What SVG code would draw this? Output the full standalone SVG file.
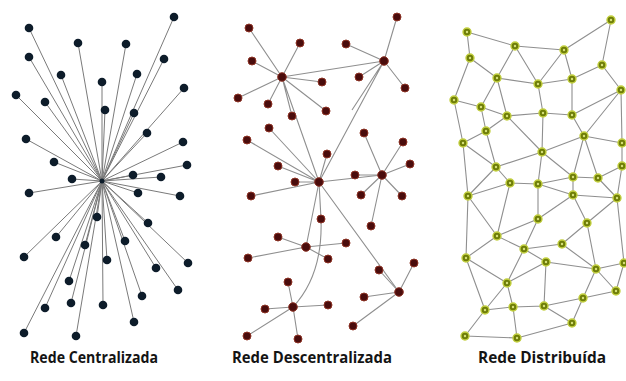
<svg xmlns="http://www.w3.org/2000/svg" width="626" height="381" viewBox="0 0 626 381">
<style>
.e{stroke:#8f8f8f;stroke-width:1.1;fill:none}
.ec{stroke:#7a7a7a;stroke-width:1;fill:none}
.l circle{fill:#0d1c2a}
.m circle{fill:#4a0c0c;stroke:#8e3325;stroke-width:1}
.r circle.o{fill:#6f7e08;stroke:#c3d040;stroke-width:1.4}
.r circle.i{fill:#d6e07a}
.t{font-family:"Open Sans","Liberation Sans",sans-serif;font-weight:700;font-size:15.5px;fill:#141414}
</style>
<rect width="626" height="381" fill="#fff"/>
<g id="connectors">
<g id="left-edges" class="ec">
<path d="M102,181L174,17M102,181L29,28M102,181L78,43M102,181L126,44M102,181L29,57M102,181L164,59M102,181L61,75M102,181L137,74M102,181L102,82M102,181L16,95M102,181L184,88M102,181L45,102M102,181L105,110M102,181L134,113M102,181L147,133M102,181L26,139M102,181L183,142M102,181L54,162M102,181L187,165M102,181L133,175M102,181L161,177M102,181L72,179M102,181L29,193M102,181L138,193M102,181L180,196M102,181L97,217M102,181L148,223M102,181L56,237M102,181L85,245M102,181L125,241M102,181L24,257M102,181L188,263M102,181L107,260M102,181L156,268M102,181L69,281M102,181L178,290M102,181L142,296M102,181L45,308M102,181L71,303M102,181L103,305M102,181L134,322M102,181L24,333M102,181L76,336"/>
</g>
<g id="mid-edges" class="e">
<path d="M282,77L249,28M282,77L300,43M282,77L252,61M282,77L322,82M282,77L238,98M282,77L268,104M282,77L326,111M282,77L292,116M282,77L384,61M282,77L319,182"/>
<path d="M384,61L397,17M384,61L346,44M384,61L359,77M384,61L405,88M384,61L319,182M384,61L352,110"/>
<path d="M319,182L269,128M319,182L247,140M319,182L327,154M319,182L278,166M319,182L295,182M319,182L251,196M319,182L382,175M319,182L306,247M319,182L399,292"/>
<path d="M319,182L321,219Q323,275 293,307"/>
<path d="M382,175L364,133M382,175L403,142M382,175L410,164M382,175L355,175M382,175L361,195M382,175L402,196M382,175L371,226"/>
<path d="M306,247L278,237M306,247L346,243M306,247L248,258M306,247L328,259"/>
<path d="M399,292L379,270M399,292L414,263M399,292L364,297M399,292L353,326"/>
<path d="M293,307L288,282M293,307L265,309M293,307L328,305M293,307L247,336M293,307L298,339"/>
</g>
<g id="right-edges" class="e">
<path d="M467,32L515,46M467,32L470,58M515,46L564,50M564,50L611,20M611,20L602,65M515,46L497,78M515,46L538,84M564,50L538,84M564,50L572,79M470,58L497,78M470,58L454,100M497,78L538,84M538,84L572,79M572,79L602,65M602,65L621,90M497,78L481,107M497,78L507,116M454,100L481,107M538,84L543,113M572,79L572,115M507,116L543,113M543,113L572,115M621,90L572,115M621,90L584,136M621,90L622,143M454,100L463,143M481,107L507,116M481,107L486,131M507,116L486,131M507,116L542,152M543,113L542,152M572,115L584,136M486,131L463,143M486,131L496,167M584,136L542,152M584,136L622,143M463,143L496,167M542,152L496,167M622,143L622,166M584,136L573,177M584,136L598,178M542,152L573,177M622,166L598,178"/>
<path d="M463,143L468,196M496,167L468,196M496,167L510,183M510,183L538,184M538,184L542,152M538,184L573,177M573,177L598,178M573,177L573,195M538,184L573,195M598,178L617,198M622,166L617,198M573,195L617,198M573,195L587,223M573,195L538,219M538,184L538,219M510,183L468,196M510,183L497,236M468,196L497,236M468,196L466,258M617,198L587,223M617,198L624,263M538,219L497,236M538,219L524,249"/>
<path d="M587,223L562,244M587,223L596,269M497,236L466,258M497,236L524,249M524,249L562,244M524,249L546,262M524,249L507,283M562,244L596,269M546,262L596,269M546,262L507,283M546,262L544,306M466,258L507,283M466,258L485,310M507,283L485,310M507,283L513,307M596,269L624,263M596,269L616,291M596,269L583,298M624,263L616,291M616,291L583,298M583,298L572,323M544,306L583,298M544,306L572,323M485,310L513,307M513,307L544,306M485,310L465,336M513,307L517,338M465,336L517,338M517,338L572,323"/>
</g>
</g>
<g id="left-nodes" class="l">
<g id="l-hub"><circle cx="102" cy="181" r="2.5"/></g>
<g id="l1"><circle cx="174" cy="17" r="4.3"/></g><g id="l2"><circle cx="29" cy="28" r="4.3"/></g><g id="l3"><circle cx="78" cy="43" r="4.3"/></g><g id="l4"><circle cx="126" cy="44" r="4.3"/></g><g id="l5"><circle cx="29" cy="57" r="4.3"/></g><g id="l6"><circle cx="164" cy="59" r="4.3"/></g><g id="l7"><circle cx="61" cy="75" r="4.3"/></g><g id="l8"><circle cx="137" cy="74" r="4.3"/></g><g id="l9"><circle cx="102" cy="82" r="4.3"/></g><g id="l10"><circle cx="16" cy="95" r="4.3"/></g><g id="l11"><circle cx="184" cy="88" r="4.3"/></g><g id="l12"><circle cx="45" cy="102" r="4.3"/></g><g id="l13"><circle cx="105" cy="110" r="4.3"/></g><g id="l14"><circle cx="134" cy="113" r="4.3"/></g><g id="l15"><circle cx="147" cy="133" r="4.3"/></g><g id="l16"><circle cx="26" cy="139" r="4.3"/></g><g id="l17"><circle cx="183" cy="142" r="4.3"/></g><g id="l18"><circle cx="54" cy="162" r="4.3"/></g><g id="l19"><circle cx="187" cy="165" r="4.3"/></g><g id="l20"><circle cx="133" cy="175" r="4.3"/></g><g id="l21"><circle cx="161" cy="177" r="4.3"/></g><g id="l22"><circle cx="72" cy="179" r="4.3"/></g><g id="l23"><circle cx="29" cy="193" r="4.3"/></g><g id="l24"><circle cx="138" cy="193" r="4.3"/></g><g id="l25"><circle cx="180" cy="196" r="4.3"/></g><g id="l26"><circle cx="97" cy="217" r="4.3"/></g><g id="l27"><circle cx="148" cy="223" r="4.3"/></g><g id="l28"><circle cx="56" cy="237" r="4.3"/></g><g id="l29"><circle cx="85" cy="245" r="4.3"/></g><g id="l30"><circle cx="125" cy="241" r="4.3"/></g><g id="l31"><circle cx="24" cy="257" r="4.3"/></g><g id="l32"><circle cx="188" cy="263" r="4.3"/></g><g id="l33"><circle cx="107" cy="260" r="4.3"/></g><g id="l34"><circle cx="156" cy="268" r="4.3"/></g><g id="l35"><circle cx="69" cy="281" r="4.3"/></g><g id="l36"><circle cx="178" cy="290" r="4.3"/></g><g id="l37"><circle cx="142" cy="296" r="4.3"/></g><g id="l38"><circle cx="45" cy="308" r="4.3"/></g><g id="l39"><circle cx="71" cy="303" r="4.3"/></g><g id="l40"><circle cx="103" cy="305" r="4.3"/></g><g id="l41"><circle cx="134" cy="322" r="4.3"/></g><g id="l42"><circle cx="24" cy="333" r="4.3"/></g><g id="l43"><circle cx="76" cy="336" r="4.3"/></g>
</g>
<g id="mid-nodes" class="m">
<g id="mA"><circle cx="282" cy="77" r="4.3"/></g><g id="mB"><circle cx="384" cy="61" r="4.3"/></g><g id="mC"><circle cx="319" cy="182" r="4.3"/></g><g id="mD"><circle cx="382" cy="175" r="4.3"/></g><g id="mE"><circle cx="306" cy="247" r="4.3"/></g><g id="mF"><circle cx="399" cy="292" r="4.3"/></g><g id="mG"><circle cx="293" cy="307" r="4.3"/></g>
<g id="m1"><circle cx="397" cy="17" r="4"/></g><g id="m2"><circle cx="249" cy="28" r="4"/></g><g id="m3"><circle cx="300" cy="43" r="4"/></g><g id="m4"><circle cx="346" cy="44" r="4"/></g><g id="m5"><circle cx="252" cy="61" r="4"/></g><g id="m6"><circle cx="322" cy="82" r="4"/></g><g id="m7"><circle cx="359" cy="77" r="4"/></g><g id="m8"><circle cx="405" cy="88" r="4"/></g><g id="m9"><circle cx="238" cy="98" r="4"/></g><g id="m10"><circle cx="268" cy="104" r="4"/></g><g id="m11"><circle cx="326" cy="111" r="4"/></g><g id="m12"><circle cx="292" cy="116" r="4"/></g><g id="m13"><circle cx="269" cy="128" r="4"/></g><g id="m14"><circle cx="364" cy="133" r="4"/></g><g id="m15"><circle cx="247" cy="140" r="4"/></g><g id="m16"><circle cx="403" cy="142" r="4"/></g><g id="m17"><circle cx="327" cy="154" r="4"/></g><g id="m18"><circle cx="410" cy="164" r="4"/></g><g id="m19"><circle cx="278" cy="166" r="4"/></g><g id="m20"><circle cx="355" cy="175" r="4"/></g><g id="m21"><circle cx="295" cy="182" r="4"/></g><g id="m22"><circle cx="251" cy="196" r="4"/></g><g id="m23"><circle cx="361" cy="195" r="4"/></g><g id="m24"><circle cx="402" cy="196" r="4"/></g><g id="m25"><circle cx="321" cy="219" r="4"/></g><g id="m26"><circle cx="371" cy="226" r="4"/></g><g id="m27"><circle cx="278" cy="237" r="4"/></g><g id="m28"><circle cx="346" cy="243" r="4"/></g><g id="m29"><circle cx="248" cy="258" r="4"/></g><g id="m30"><circle cx="328" cy="259" r="4"/></g><g id="m31"><circle cx="379" cy="270" r="4"/></g><g id="m32"><circle cx="414" cy="263" r="4"/></g><g id="m33"><circle cx="288" cy="282" r="4"/></g><g id="m34"><circle cx="364" cy="297" r="4"/></g><g id="m35"><circle cx="265" cy="309" r="4"/></g><g id="m36"><circle cx="328" cy="305" r="4"/></g><g id="m37"><circle cx="353" cy="326" r="4"/></g><g id="m38"><circle cx="247" cy="336" r="4"/></g><g id="m39"><circle cx="298" cy="339" r="4"/></g>
</g>
<g id="right-nodes" class="r">
<g id="r1"><circle class="o" cx="611" cy="20" r="4"/><circle class="i" cx="611" cy="20" r="1.2"/></g>
<g id="r2"><circle class="o" cx="467" cy="32" r="4"/><circle class="i" cx="467" cy="32" r="1.2"/></g>
<g id="r3"><circle class="o" cx="515" cy="46" r="4"/><circle class="i" cx="515" cy="46" r="1.2"/></g>
<g id="r4"><circle class="o" cx="564" cy="50" r="4"/><circle class="i" cx="564" cy="50" r="1.2"/></g>
<g id="r5"><circle class="o" cx="470" cy="58" r="4"/><circle class="i" cx="470" cy="58" r="1.2"/></g>
<g id="r6"><circle class="o" cx="602" cy="65" r="4"/><circle class="i" cx="602" cy="65" r="1.2"/></g>
<g id="r7"><circle class="o" cx="497" cy="78" r="4"/><circle class="i" cx="497" cy="78" r="1.2"/></g>
<g id="r8"><circle class="o" cx="538" cy="84" r="4"/><circle class="i" cx="538" cy="84" r="1.2"/></g>
<g id="r9"><circle class="o" cx="572" cy="79" r="4"/><circle class="i" cx="572" cy="79" r="1.2"/></g>
<g id="r10"><circle class="o" cx="621" cy="90" r="4"/><circle class="i" cx="621" cy="90" r="1.2"/></g>
<g id="r11"><circle class="o" cx="454" cy="100" r="4"/><circle class="i" cx="454" cy="100" r="1.2"/></g>
<g id="r12"><circle class="o" cx="481" cy="107" r="4"/><circle class="i" cx="481" cy="107" r="1.2"/></g>
<g id="r13"><circle class="o" cx="507" cy="116" r="4"/><circle class="i" cx="507" cy="116" r="1.2"/></g>
<g id="r14"><circle class="o" cx="543" cy="113" r="4"/><circle class="i" cx="543" cy="113" r="1.2"/></g>
<g id="r15"><circle class="o" cx="572" cy="115" r="4"/><circle class="i" cx="572" cy="115" r="1.2"/></g>
<g id="r16"><circle class="o" cx="486" cy="131" r="4"/><circle class="i" cx="486" cy="131" r="1.2"/></g>
<g id="r17"><circle class="o" cx="584" cy="136" r="4"/><circle class="i" cx="584" cy="136" r="1.2"/></g>
<g id="r18"><circle class="o" cx="463" cy="143" r="4"/><circle class="i" cx="463" cy="143" r="1.2"/></g>
<g id="r19"><circle class="o" cx="622" cy="143" r="4"/><circle class="i" cx="622" cy="143" r="1.2"/></g>
<g id="r20"><circle class="o" cx="542" cy="152" r="4"/><circle class="i" cx="542" cy="152" r="1.2"/></g>
<g id="r21"><circle class="o" cx="496" cy="167" r="4"/><circle class="i" cx="496" cy="167" r="1.2"/></g>
<g id="r22"><circle class="o" cx="622" cy="166" r="4"/><circle class="i" cx="622" cy="166" r="1.2"/></g>
<g id="r23"><circle class="o" cx="573" cy="177" r="4"/><circle class="i" cx="573" cy="177" r="1.2"/></g>
<g id="r24"><circle class="o" cx="598" cy="178" r="4"/><circle class="i" cx="598" cy="178" r="1.2"/></g>
<g id="r25"><circle class="o" cx="510" cy="183" r="4"/><circle class="i" cx="510" cy="183" r="1.2"/></g>
<g id="r26"><circle class="o" cx="538" cy="184" r="4"/><circle class="i" cx="538" cy="184" r="1.2"/></g>
<g id="r27"><circle class="o" cx="468" cy="196" r="4"/><circle class="i" cx="468" cy="196" r="1.2"/></g>
<g id="r28"><circle class="o" cx="573" cy="195" r="4"/><circle class="i" cx="573" cy="195" r="1.2"/></g>
<g id="r29"><circle class="o" cx="617" cy="198" r="4"/><circle class="i" cx="617" cy="198" r="1.2"/></g>
<g id="r30"><circle class="o" cx="538" cy="219" r="4"/><circle class="i" cx="538" cy="219" r="1.2"/></g>
<g id="r31"><circle class="o" cx="587" cy="223" r="4"/><circle class="i" cx="587" cy="223" r="1.2"/></g>
<g id="r32"><circle class="o" cx="497" cy="236" r="4"/><circle class="i" cx="497" cy="236" r="1.2"/></g>
<g id="r33"><circle class="o" cx="562" cy="244" r="4"/><circle class="i" cx="562" cy="244" r="1.2"/></g>
<g id="r34"><circle class="o" cx="524" cy="249" r="4"/><circle class="i" cx="524" cy="249" r="1.2"/></g>
<g id="r35"><circle class="o" cx="466" cy="258" r="4"/><circle class="i" cx="466" cy="258" r="1.2"/></g>
<g id="r36"><circle class="o" cx="546" cy="262" r="4"/><circle class="i" cx="546" cy="262" r="1.2"/></g>
<g id="r37"><circle class="o" cx="596" cy="269" r="4"/><circle class="i" cx="596" cy="269" r="1.2"/></g>
<g id="r38"><circle class="o" cx="624" cy="263" r="4"/><circle class="i" cx="624" cy="263" r="1.2"/></g>
<g id="r39"><circle class="o" cx="507" cy="283" r="4"/><circle class="i" cx="507" cy="283" r="1.2"/></g>
<g id="r40"><circle class="o" cx="616" cy="291" r="4"/><circle class="i" cx="616" cy="291" r="1.2"/></g>
<g id="r41"><circle class="o" cx="583" cy="298" r="4"/><circle class="i" cx="583" cy="298" r="1.2"/></g>
<g id="r42"><circle class="o" cx="485" cy="310" r="4"/><circle class="i" cx="485" cy="310" r="1.2"/></g>
<g id="r43"><circle class="o" cx="513" cy="307" r="4"/><circle class="i" cx="513" cy="307" r="1.2"/></g>
<g id="r44"><circle class="o" cx="544" cy="306" r="4"/><circle class="i" cx="544" cy="306" r="1.2"/></g>
<g id="r45"><circle class="o" cx="572" cy="323" r="4"/><circle class="i" cx="572" cy="323" r="1.2"/></g>
<g id="r46"><circle class="o" cx="465" cy="336" r="4"/><circle class="i" cx="465" cy="336" r="1.2"/></g>
<g id="r47"><circle class="o" cx="517" cy="338" r="4"/><circle class="i" cx="517" cy="338" r="1.2"/></g>
</g>
<g id="labels" class="t">
<text x="30" y="363" textLength="128" lengthAdjust="spacingAndGlyphs">Rede Centralizada</text>
<text x="232" y="363" textLength="160" lengthAdjust="spacingAndGlyphs">Rede Descentralizada</text>
<text x="478" y="363" textLength="128" lengthAdjust="spacingAndGlyphs">Rede Distribuída</text>
</g>
</svg>
